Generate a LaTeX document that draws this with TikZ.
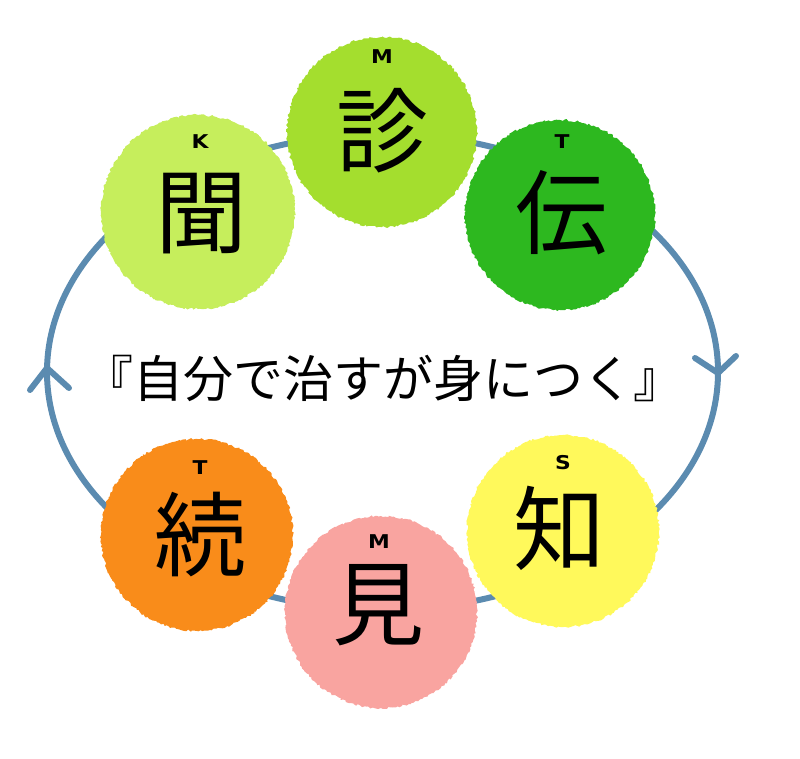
\documentclass[tikz,border=0pt]{standalone}
\usepackage{fontspec}
\newfontfamily\jp{Noto Sans CJK JP}
\newfontfamily\labfont{DejaVu Sans}
\usetikzlibrary{decorations.pathmorphing}
\definecolor{ring}{HTML}{5B8BB0}
\definecolor{cShin}{HTML}{A4DE2E}
\definecolor{cDen}{HTML}{2DB81F}
\definecolor{cBun}{HTML}{C6EE5C}
\definecolor{cChi}{HTML}{FFF95B}
\definecolor{cKen}{HTML}{F9A4A0}
\definecolor{cZoku}{HTML}{F98C1A}
\tikzset{
  ringline/.style={draw=ring, line width=6pt, line cap=round, line join=round},
  blob/.style={decorate, decoration={random steps, segment length=2pt, amplitude=1.1pt}},
  kanji/.style={font=\jp\fontsize{92pt}{92pt}\selectfont, inner sep=0pt, anchor=center},
  letter/.style={font=\labfont\bfseries\fontsize{19pt}{19pt}\selectfont, inner sep=0pt, anchor=center, xscale=1.15},
  motto/.style={font=\jp\fontsize{50pt}{50pt}\selectfont, inner sep=0pt, anchor=center}
}
\begin{document}
\begin{tikzpicture}[x=1pt,y=-1pt]
\pgfmathsetseed{7}
\useasboundingbox (0,0) rectangle (800,759);
% ring
\draw[ringline] (382.5,372) ellipse [x radius=335.5pt, y radius=238pt];
\coordinate (tipL) at (47,368);
\coordinate (tipR) at (718,373);
\draw[ringline] (tipL) -- ++(-17,22);
\draw[ringline] (tipL) -- ++(22,20);
\draw[ringline] (tipR) -- ++(-23,-15);
\draw[ringline] (tipR) -- ++(18,-17);
% circles
\fill[cShin, blob] (382,132) circle [radius=95pt];
\fill[cDen, blob] (560,215) circle [radius=95pt];
\fill[cBun, blob] (198,212) circle [radius=97pt];
\fill[cChi, blob] (563,531) circle [radius=96pt];
\fill[cKen, blob] (381,612) circle [radius=96pt];
\fill[cZoku, blob] (197,535) circle [radius=96pt];
% texts
\node[kanji] (shin) at (382,131) {診};
\node[letter] (lshin) at (382,57) {M};
\node[kanji] (den) at (561,213) {伝};
\node[letter] (lden) at (562,142) {T};
\node[kanji] (bun) at (201,214) {聞};
\node[letter] (lbun) at (200,142) {K};
\node[kanji] (chi) at (559,528) {知};
\node[letter] (lchi) at (563,463) {S};
\node[kanji] (ken) at (378,605) {見};
\node[letter] (lken) at (379,542) {M};
\node[kanji] (zoku) at (200,535) {続};
\node[letter] (lzoku) at (200,468) {T};
\node[motto] (motto) at (383.5,378) {『自分で治すが身につく』};
\end{tikzpicture}
\end{document}
